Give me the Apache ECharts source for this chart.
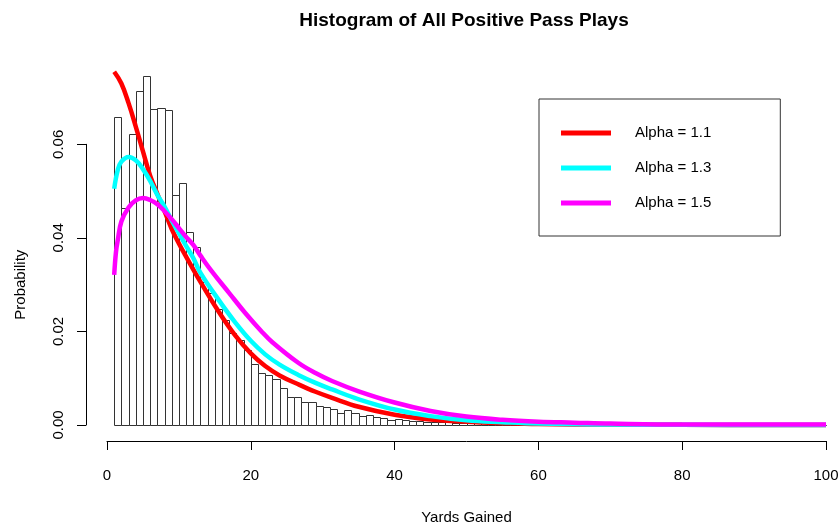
<!DOCTYPE html>
<html>
<head>
<meta charset="utf-8">
<script src="https://cdn.jsdelivr.net/npm/echarts@6/dist/echarts.min.js"></script>
<style>
html,body{margin:0;padding:0;background:#fff;}
#chart{width:838px;height:524px;}
</style>
</head>
<body>
<div id="chart"></div>
<script>
// Histogram: bin k covers [binStart + k*binWidth, binStart + (k+1)*binWidth)
const binStart = 1;
const binWidth = 1;
const histValues = [
  0.0658, 0.0463, 0.0623, 0.0714, 0.0747, 0.0675, 0.0678, 0.0673, 0.0491, 0.0517,
  0.0412, 0.0381, 0.0305, 0.0283, 0.0249, 0.0224, 0.0197, 0.0181, 0.0160, 0.0130,
  0.0111, 0.0106, 0.0098, 0.0080, 0.0060, 0.0060, 0.0050, 0.0050, 0.0041, 0.0038,
  0.0035, 0.0026, 0.0031, 0.0025, 0.0020, 0.0021, 0.0018, 0.0016, 0.0011, 0.0012,
  0.0010, 0.0009, 0.0008, 0.0007, 0.0007, 0.0006, 0.0006, 0.0005, 0.0005, 0.0005,
  0.0004, 0.0004, 0.0003, 0.0003, 0.0003, 0.0002, 0.0002, 0.0002, 0.0001, 0.0001,
  0.0001, 0.0001, 0.0001, 0.00005, 0.0001, 0.00005, 0.00005, 0.0001, 0.00005, 0.00005,
  0, 0.00005, 0.00005, 0.0007, 0.00005, 0, 0.00005, 0, 0, 0.00005,
  0, 0, 0, 0, 0, 0, 0, 0, 0, 0,
  0, 0, 0, 0, 0, 0, 0, 0, 0
];

const redX = [1, 2, 3, 4, 5, 6, 7, 8, 9, 10, 11, 13, 15.5, 17.8, 20, 22, 24, 26.6, 29, 31.3, 35, 40, 45, 50, 55, 60, 70, 80, 100];
const redY = [0.0755, 0.0730, 0.0688, 0.0638, 0.0585, 0.0533, 0.0494, 0.0457, 0.0419, 0.0388, 0.0360, 0.0306, 0.0243, 0.0192, 0.0153, 0.0126, 0.0106, 0.0087, 0.0071, 0.0058, 0.0039, 0.0022, 0.0012, 0.0007, 0.0004, 0.0002, 0.0001, 0.00003, 0];

const cyanX = [1, 1.5, 2, 3, 4, 5, 6, 7, 8, 9, 10, 11, 12, 13, 15.5, 17.8, 20, 22, 24, 26.6, 29, 31.3, 35, 40, 45, 50, 55, 60, 70, 80, 100];
const cyanY = [0.0505, 0.0545, 0.0563, 0.0573, 0.0566, 0.0547, 0.0522, 0.0492, 0.0467, 0.0437, 0.0410, 0.0383, 0.0357, 0.0325, 0.0268, 0.0220, 0.0180, 0.0151, 0.0129, 0.0107, 0.0090, 0.0076, 0.0055, 0.0033, 0.0019, 0.0010, 0.0006, 0.0003, 0.0001, 0.00003, 0];

const magX = [1, 1.25, 1.5, 2, 3, 4, 5, 6, 7, 8, 9, 10, 11, 12, 13, 14.5, 17, 19.2, 21.5, 23, 26.6, 29, 31.3, 35, 40, 45, 50, 55, 60, 65, 70, 80, 100];
const magY = [0.0321, 0.0370, 0.0395, 0.0435, 0.0465, 0.0480, 0.0485, 0.0481, 0.0472, 0.0457, 0.0440, 0.0421, 0.0402, 0.0385, 0.0362, 0.0330, 0.0282, 0.0240, 0.0200, 0.0177, 0.0133, 0.0111, 0.0094, 0.0072, 0.0048, 0.0030, 0.0018, 0.0011, 0.0007, 0.0005, 0.0003, 0.0001, 0.0001];

const seriesNames = ['Alpha = 1.1', 'Alpha = 1.3', 'Alpha = 1.5'];
const xTicks = [0, 20, 40, 60, 80, 100];
const yTicks = [0, 0.02, 0.04, 0.06];

const FONT = '"Liberation Sans", Arial, sans-serif';

function pairs(xs, ys) { return xs.map((x, i) => [x, ys[i]]); }
const histData = histValues.map((v, i) => [binStart + i * binWidth, binStart + (i + 1) * binWidth, v]);

const chart = echarts.init(document.getElementById('chart'), null, {renderer: 'canvas'});
chart.setOption({
  backgroundColor: '#fff',
  animation: false,
  title: {
    text: 'Histogram of All Positive Pass Plays',
    left: 459, top: 6, textAlign: 'center',
    textStyle: {fontFamily: FONT, fontWeight: 'bold', fontSize: 19, color: '#000'}
  },
  legend: {
    orient: 'vertical',
    left: 539, top: 99,
    padding: [26, 69, 25, 22],
    borderColor: '#333', borderWidth: 1,
    itemWidth: 50, itemHeight: 5, itemGap: 19,
    icon: 'rect',
    data: seriesNames,
    textStyle: {fontFamily: FONT, fontSize: 15, color: '#000', padding: [0, 0, 0, 19], lineHeight: 16}
  },
  grid: {left: 107, right: 12, top: 144.3, bottom: 99, outerBoundsMode: 'none', containLabel: false},
  xAxis: {
    type: 'value', min: xTicks[0], max: xTicks[xTicks.length - 1], interval: 20,
    offset: 16,
    name: 'Yards Gained', nameLocation: 'middle', nameGap: 69,
    nameTextStyle: {fontFamily: FONT, fontSize: 15, color: '#000'},
    axisLine: {onZero: false, lineStyle: {color: '#000', width: 1}},
    axisTick: {length: 9, lineStyle: {color: '#000'}},
    axisLabel: {margin: 27, fontFamily: FONT, fontSize: 15, color: '#000', showMaxLabel: true, showMinLabel: true},
    splitLine: {show: false}
  },
  yAxis: {
    type: 'value', min: yTicks[0], max: yTicks[yTicks.length - 1], interval: 0.02,
    offset: 21,
    name: 'Probability', nameLocation: 'middle', nameGap: 58, nameRotate: 90,
    nameTextStyle: {fontFamily: FONT, fontSize: 15, color: '#000'},
    axisLine: {show: true, onZero: false, lineStyle: {color: '#000', width: 1}},
    axisTick: {show: true, length: 9, lineStyle: {color: '#000'}},
    axisLabel: {rotate: 90, margin: 20, fontFamily: FONT, fontSize: 15, color: '#000',
      formatter: v => v.toFixed(2)},
    splitLine: {show: false}
  },
  series: [
    {
      type: 'custom',
      name: 'hist',
      clip: false,
      data: histData,
      encode: {x: [0, 1], y: 2},
      renderItem: function (params, api) {
        const p0 = api.coord([api.value(0), 0]);
        const p1 = api.coord([api.value(1), api.value(2)]);
        return {
          type: 'rect',
          shape: {x: Math.round(p0[0]) + 0.5, y: Math.round(p1[1]) + 0.5,
                  width: Math.round(p1[0]) - Math.round(p0[0]),
                  height: Math.round(p0[1]) - Math.round(p1[1])},
          style: {fill: '#fff', stroke: '#333', lineWidth: 1}
        };
      }
    },
    {type: 'line', name: seriesNames[0], data: pairs(redX, redY), smooth: 0.4, showSymbol: false, clip: false,
     lineStyle: {color: '#ff0000', width: 4.5}, itemStyle: {color: '#ff0000'}},
    {type: 'line', name: seriesNames[1], data: pairs(cyanX, cyanY), smooth: 0.4, showSymbol: false, clip: false,
     lineStyle: {color: '#00ffff', width: 4.5}, itemStyle: {color: '#00ffff'}},
    {type: 'line', name: seriesNames[2], data: pairs(magX, magY), smooth: 0.4, showSymbol: false, clip: false,
     lineStyle: {color: '#ff00ff', width: 4.5}, itemStyle: {color: '#ff00ff'}}
  ]
});
</script>
</body>
</html>
